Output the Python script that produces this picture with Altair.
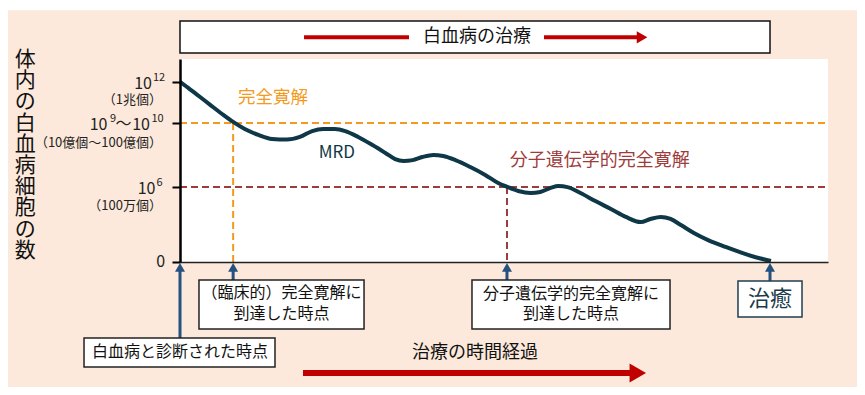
import altair as alt
import pandas as pd

FONT = "Noto Sans CJK JP"

# ---- data: time (0-100) vs. level of leukemic cells (0-100, schematic pseudo-log scale)
curve_t = [0, 1.5, 3.1, 4.9, 6.5, 8.2, 10.0, 12.1, 14.2, 16.5,
           18.5, 20.4, 22.1, 23.9, 25.5, 27.5, 29.7, 31.7, 33.2, 34.5,
           35.9, 37.4, 39.1, 40.6, 42.5, 44.8, 47.1, 49.1, 50.5, 52.2,
           54.1, 55.6, 57.2, 58.4, 59.8, 61.8, 64.1, 66.5, 68.8, 71.1,
           72.6, 74.2, 75.7, 77.3, 79.3, 81.5, 84.2, 87.3, 89.6, 91.2]
curve_l = [88.7, 85.2, 81.3, 76.8, 72.9, 69.0, 65.5, 62.6, 60.6, 60.3,
           61.6, 64.5, 65.5, 65.5, 64.5, 61.6, 57.6, 53.7, 50.7, 49.8,
           50.2, 51.7, 52.7, 52.2, 50.2, 46.8, 42.9, 38.9, 37.0, 35.0,
           34.0, 34.5, 36.5, 37.4, 36.9, 34.0, 30.0, 26.1, 22.2, 19.7,
           21.2, 22.2, 21.2, 18.2, 14.3, 10.8, 7.4, 3.9, 1.7, 0.5]

tick_levels = [0, 36.95, 68.47, 88.67]          # 0, 10^6, 10^9~10^10, 10^12
cr_level = 68.47                                 # complete remission
mcr_level = 36.95                                # molecular complete remission
cr_time = 8.2
mcr_time = 50.46
cure_time = 91.05

ORANGE = "#F39A1E"
DRED = "#9E3B3B"
CURVE = "#0E3847"
BLUE = "#24517F"
RED = "#C00000"
PEACH = "#FCE9DB"

XS = alt.Scale(domain=[0, 100], nice=False, zero=False)
YS = alt.Scale(domain=[0, 100], nice=False, zero=False)
XAXIS = alt.Axis(labels=False, ticks=False, title=None, grid=False,
                 domainColor="#222222", domainWidth=1.5, zindex=1)
YAXIS = alt.Axis(values=tick_levels, labels=False, title=None, grid=False,
                 tickSize=8, tickColor="black", tickWidth=2,
                 domainColor="black", domainWidth=2.5, zindex=1)


def X(f="x"):
    return alt.X(f"{f}:Q", scale=XS, axis=XAXIS)


def Y(f="y"):
    return alt.Y(f"{f}:Q", scale=YS, axis=YAXIS)


def texts(rows, **kw):
    df = pd.DataFrame(rows, columns=["x", "y", "text", "color"])
    return alt.Chart(df).mark_text(font=FONT, **kw).encode(
        x=X(), y=Y(), text="text:N", color=alt.Color("color:N", scale=None))


def rects(rows, **kw):
    df = pd.DataFrame(rows, columns=["x", "x2", "y", "y2"])
    return alt.Chart(df).mark_rect(**kw).encode(
        x=X(), x2="x2:Q", y=Y(), y2="y2:Q")


def rules(rows, **kw):
    df = pd.DataFrame(rows, columns=["x", "x2", "y", "y2", "color"])
    return alt.Chart(df).mark_rule(**kw).encode(
        x=X(), x2="x2:Q", y=Y(), y2="y2:Q", color=alt.Color("color:N", scale=None))


def heads(rows, shape, size, color):
    df = pd.DataFrame(rows, columns=["x", "y"])
    return alt.Chart(df).mark_point(shape=shape, size=size, filled=True, opacity=1,
                                    color=color, strokeWidth=0).encode(x=X(), y=Y())


# background
peach = rects([[-30, 106, 124, -64]], color=PEACH)
plot_area = rects([[0, 100, 0, 100]], color="white")

dashed = rules([
    [0, 100, cr_level, cr_level, ORANGE],
    [cr_time, cr_time, cr_level, 0, ORANGE],
    [0, 100, mcr_level, mcr_level, DRED],
    [mcr_time, mcr_time, mcr_level, 0, DRED],
], strokeDash=[7, 4], strokeWidth=2)

curve = alt.Chart(pd.DataFrame({"x": curve_t, "y": curve_l})).mark_line(
    interpolate="monotone", strokeWidth=4, color=CURVE).encode(x=X(), y=Y())

plot_labels = alt.layer(
    texts([[8.95, 80.8, "完全寛解", ORANGE]], align="left", baseline="middle", fontSize=17.5),
    texts([[24.2, 53.7, "MRD", CURVE]], align="center", baseline="middle", fontSize=17),
    texts([[50.9, 49.75, "分子遺伝学的完全寛解", DRED]], align="left", baseline="middle", fontSize=18),
)

# y tick labels
tick_base = texts([
    [-2.3, 1.0, "0", "#222"],
    [-4.32, 88.67, "10", "#222"],
    [-11.19, 68.47, "10", "#222"],
    [-4.63, 68.47, "10", "#222"],
    [-3.78, 36.95, "10", "#222"],
], align="right", baseline="middle", fontSize=16, dy=2)
tick_sup = texts([
    [-4.17, 88.67, "12", "#222"],
    [-10.8, 68.47, "9", "#222"],
    [-4.4, 68.47, "10", "#222"],
    [-3.63, 36.95, "6", "#222"],
], align="left", baseline="middle", fontSize=11, dy=-4)
tick_tilde = texts([[-8.72, 68.47, "～", "#222"]], align="center", baseline="middle", fontSize=16, dy=1)
tick_paren = texts([
    [-2.78, 79.8, "（1兆個）", "#222"],
    [-2.78, 58.62, "（10億個～100億個）", "#222"],
    [-2.78, 27.59, "（100万個）", "#222"],
], align="right", baseline="middle", fontSize=13)

# vertical y-axis title (first line anchored at its centre)
y_title = texts([[-23.9, 99.5, "\n".join("体内の白血病細胞の数"), "#111"]],
                align="center", baseline="middle", fontSize=21, lineBreak="\n", lineHeight=21.2)

# top banner
top_box = rects([[0, 91.05, 118.7, 102.96]], fill="white", stroke="#111", strokeWidth=1.5)
top_text = texts([[45.83, 110.6, "白血病の治療", "#111"]], align="center", baseline="middle", fontSize=18)
top_lines = rules([
    [19.14, 35.34, 110.7, 110.7, RED],
    [56.17, 71.0, 110.7, 110.7, RED],
], strokeWidth=4)
top_head = heads([[71.3, 110.7]], "triangle-right", 150, RED)

# bottom arrow
bottom_text = texts([[45.52, -44.83, "治療の時間経過", "#111"]], align="center", baseline="middle", fontSize=18)
bottom_line = rules([[18.98, 70.0, -54.68, -54.68, RED]], strokeWidth=6)
bottom_head = heads([[70.65, -54.68]], "triangle-right", 361, RED)

# blue event arrows
shafts = rules([
    [0, 0, -37.44, -3.5, BLUE],
    [cr_time, cr_time, -8.87, -3.5, BLUE],
    [mcr_time, mcr_time, -8.87, -3.5, BLUE],
    [cure_time, cure_time, -9.36, -3.5, BLUE],
], strokeWidth=3)
blue_heads = heads([[0, -2.61], [cr_time, -2.61], [mcr_time, -2.61], [cure_time, -2.61]],
                   "triangle-up", 100, BLUE)

# annotation boxes
boxes = rects([
    [-14.81, 14.66, -37.44, -51.72],
    [2.93, 28.40, -8.87, -33.0],
    [45.06, 75.62, -8.87, -33.0],
], fill="white", stroke="#222", strokeWidth=1.5)
cure_box = rects([[86.11, 95.99, -9.36, -27.09]], fill="white", stroke="#1F3F4F", strokeWidth=1.5)
box_texts = texts([
    [0, -44.58, "白血病と診断された時点", "#111"],
    [15.66, -15.27, "（臨床的）完全寛解に", "#111"],
    [15.66, -25.62, "到達した時点", "#111"],
    [60.34, -15.76, "分子遺伝学的完全寛解に", "#111"],
    [60.34, -25.62, "到達した時点", "#111"],
], align="center", baseline="middle", fontSize=16)
cure_text = texts([[91.05, -18.23, "治癒", "#1A3A4A"]], align="center", baseline="middle", fontSize=22)

chart = alt.layer(
    peach, plot_area, dashed, curve, plot_labels,
    tick_base, tick_sup, tick_tilde, tick_paren, y_title,
    top_box, top_lines, top_head, top_text,
    bottom_text, bottom_line, bottom_head,
    shafts, blue_heads, boxes, cure_box, box_texts, cure_text,
).properties(
    width=648, height=203,
    autosize=alt.AutoSizeParams(type="none"),
    padding={"left": 172, "top": 51, "right": 29, "bottom": 125},
    background="white",
).configure_view(stroke=None)

chart.save("out.html", embed_options={"renderer": "svg", "actions": False})
